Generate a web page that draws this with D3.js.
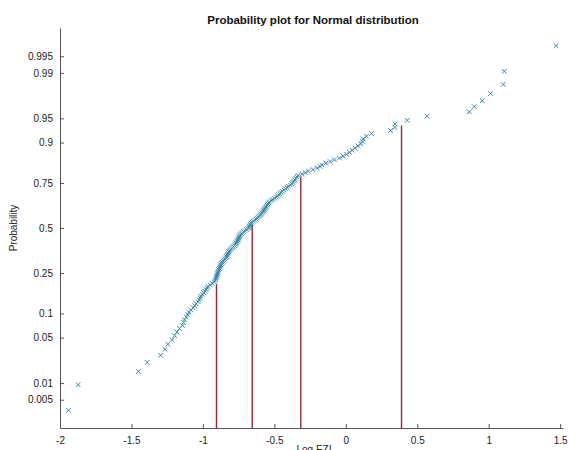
<!DOCTYPE html>
<html>
<head>
<meta charset="utf-8">
<script src="https://cdn.jsdelivr.net/npm/d3@7"></script>
<style>
  html, body { margin: 0; padding: 0; background: #fff; }
  svg { display: block; font-family: "Liberation Sans", Arial, Helvetica, sans-serif; }
</style>
</head>
<body>
<svg id="chart" width="569" height="450"></svg>
<script>
// Sorted sample of log EZI values (one marker per observation)
const logEZI = [
  -1.941, -1.873, -1.451, -1.390, -1.296, -1.265, -1.245, -1.217, -1.198, -1.182,
  -1.163, -1.144, -1.135, -1.128, -1.116, -1.105, -1.097, -1.084, -1.069, -1.058,
  -1.047, -1.033, -1.026, -1.018, -1.013, -1.004, -0.994, -0.985, -0.978, -0.971,
  -0.964, -0.950, -0.935, -0.920, -0.915, -0.910, -0.907, -0.904, -0.901, -0.898,
  -0.895, -0.892, -0.888, -0.884, -0.880, -0.877, -0.874, -0.870, -0.864, -0.857,
  -0.851, -0.845, -0.838, -0.834, -0.830, -0.826, -0.822, -0.818, -0.814, -0.808,
  -0.801, -0.793, -0.786, -0.778, -0.771, -0.767, -0.763, -0.759, -0.755, -0.752,
  -0.749, -0.746, -0.742, -0.737, -0.731, -0.724, -0.716, -0.706, -0.695, -0.685,
  -0.679, -0.674, -0.670, -0.666, -0.662, -0.655, -0.646, -0.637, -0.628, -0.620,
  -0.612, -0.605, -0.598, -0.592, -0.586, -0.580, -0.575, -0.570, -0.565, -0.560,
  -0.555, -0.550, -0.545, -0.540, -0.535, -0.523, -0.511, -0.498, -0.486, -0.478,
  -0.470, -0.462, -0.453, -0.444, -0.433, -0.423, -0.412, -0.400, -0.387, -0.378,
  -0.371, -0.364, -0.357, -0.350, -0.342, -0.334, -0.308, -0.283, -0.262, -0.230,
  -0.200, -0.180, -0.168, -0.140, -0.110, -0.080, -0.045, -0.020, 0.005, 0.026,
  0.045, 0.065, 0.085, 0.105, 0.115, 0.121, 0.145, 0.180, 0.313, 0.343,
  0.345, 0.430, 0.568, 0.864, 0.899, 0.955, 1.014, 1.102, 1.109, 1.472
];

// Probability axis ticks and labels
const probTicks = [0.005, 0.01, 0.05, 0.1, 0.25, 0.5, 0.75, 0.9, 0.95, 0.99, 0.995];
const probLabels = ["0.005", "0.01", "0.05", "0.1", "0.25", "0.5", "0.75", "0.9", "0.95", "0.99", "0.995"];

// Log EZI axis ticks
const xTicks = [-2, -1.5, -1, -0.5, 0, 0.5, 1, 1.5];

// Reference drop lines (value, cumulative probability at the curve)
const refX = [-0.905, -0.655, -0.315, 0.39];
const refP = [0.20, 0.52, 0.78, 0.938];

// Inverse standard normal CDF (Acklam's rational approximation)
function probit(p) {
  const a = [-3.969683028665376e+01, 2.209460984245205e+02, -2.759285104469687e+02,
             1.383577518672690e+02, -3.066479806614716e+01, 2.506628277459239e+00];
  const b = [-5.447609879822406e+01, 1.615858368580409e+02, -1.556989798598866e+02,
             6.680131188771972e+01, -1.328068155288572e+01];
  const c = [-7.784894002430293e-03, -3.223964580411365e-01, -2.400758277161838e+00,
             -2.549732539343734e+00, 4.374664141464968e+00, 2.938163982698783e+00];
  const d = [7.784695709041462e-03, 3.224671290700398e-01, 2.445134137142996e+00,
             3.754408661907416e+00];
  const pl = 0.02425, ph = 1 - pl;
  let q, r;
  if (p < pl) {
    q = Math.sqrt(-2 * Math.log(p));
    return (((((c[0]*q+c[1])*q+c[2])*q+c[3])*q+c[4])*q+c[5]) /
           ((((d[0]*q+d[1])*q+d[2])*q+d[3])*q+1);
  } else if (p <= ph) {
    q = p - 0.5; r = q * q;
    return (((((a[0]*r+a[1])*r+a[2])*r+a[3])*r+a[4])*r+a[5])*q /
           (((((b[0]*r+b[1])*r+b[2])*r+b[3])*r+b[4])*r+1);
  } else {
    q = Math.sqrt(-2 * Math.log(1 - p));
    return -(((((c[0]*q+c[1])*q+c[2])*q+c[3])*q+c[4])*q+c[5]) /
            ((((d[0]*q+d[1])*q+d[2])*q+d[3])*q+1);
  }
}

const svg = d3.select("#chart");
const plotLeft = 60, plotRight = 563, plotTop = 28, plotBottom = 428;

const x = d3.scaleLinear().domain([-2, 1.52]).range([plotLeft, plotRight]);
const y = d3.scaleLinear().domain([-3, 3]).range([plotBottom, plotTop]);

const n = logEZI.length;
const points = logEZI.map((v, i) => ({ v, p: (i + 0.5) / n }));

// Title
svg.append("text")
  .attr("x", 313).attr("y", 24)
  .attr("text-anchor", "middle")
  .attr("font-size", 11.5).attr("font-weight", "bold")
  .attr("fill", "#111")
  .text("Probability plot for Normal distribution");

// Reference lines
svg.append("g").selectAll("line")
  .data(refX.map((v, i) => ({ v, p: refP[i] })))
  .join("line")
  .attr("x1", d => x(d.v)).attr("x2", d => x(d.v))
  .attr("y1", plotBottom).attr("y2", d => y(probit(d.p)))
  .attr("stroke", "#8e2a38").attr("stroke-width", 1.4);

// Axes
const yAxis = d3.axisLeft(y)
  .tickValues(probTicks.map(probit))
  .tickFormat((d, i) => probLabels[i])
  .tickSizeInner(-4).tickSizeOuter(0).tickPadding(7);

const gy = svg.append("g").attr("transform", `translate(${plotLeft},0)`).call(yAxis);

const xAxis = d3.axisBottom(x)
  .tickValues(xTicks)
  .tickFormat(d => String(d))
  .tickSizeInner(-4).tickSizeOuter(0).tickPadding(9);

const gx = svg.append("g").attr("transform", `translate(0,${plotBottom})`).call(xAxis);

[gx, gy].forEach(g => {
  g.select(".domain").attr("stroke", "#555").attr("stroke-width", 1);
  g.selectAll(".tick line").attr("stroke", "#555");
  g.selectAll(".tick text").attr("font-size", 10).attr("fill", "#222")
    .attr("font-family", "'Liberation Sans', Arial, sans-serif");
});

// Axis titles
svg.append("text")
  .attr("transform", `translate(17,${y(0)}) rotate(-90)`)
  .attr("text-anchor", "middle")
  .attr("font-size", 10).attr("fill", "#222")
  .text("Probability");

svg.append("text")
  .attr("x", 314).attr("y", 453)
  .attr("text-anchor", "middle")
  .attr("font-size", 10).attr("fill", "#222")
  .text("Log EZI");

// Markers (x shapes)
const s = 2.3;
svg.append("g").selectAll("path")
  .data(points)
  .join("path")
  .attr("transform", d => `translate(${x(d.v)},${y(probit(d.p))})`)
  .attr("d", `M${-s},${-s}L${s},${s}M${-s},${s}L${s},${-s}`)
  .attr("fill", "none")
  .attr("stroke", "#3a86a8")
  .attr("stroke-width", 1);
</script>
</body>
</html>
